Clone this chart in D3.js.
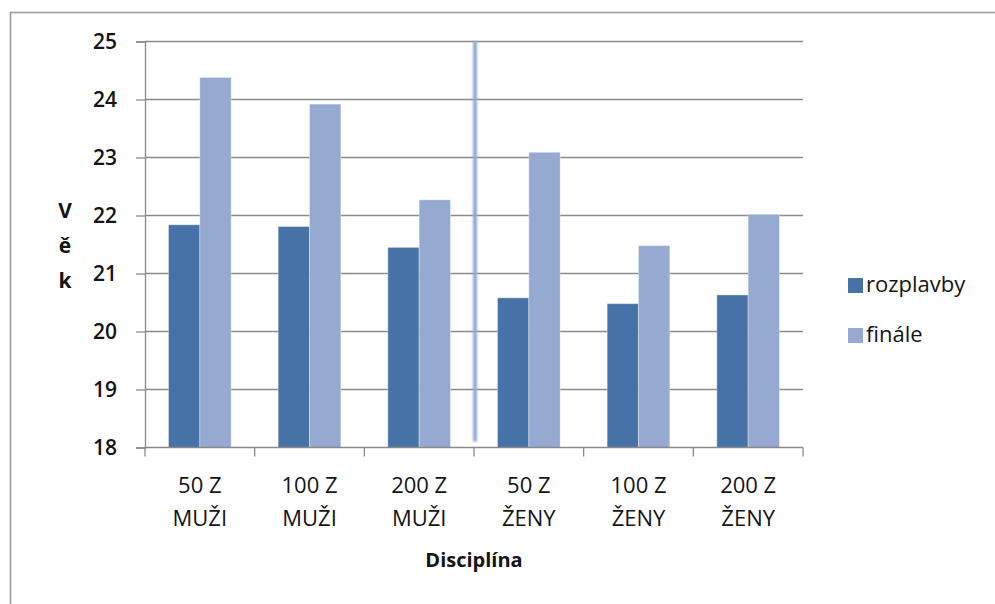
<!DOCTYPE html>
<html>
<head>
<meta charset="utf-8">
<script src="https://cdn.jsdelivr.net/npm/d3@7"></script>
<style>
  html, body { margin: 0; padding: 0; background: #fff; }
  svg { display: block; }
  text { font-family: "Open Sans", "Noto Sans", sans-serif; fill: #141414; }
</style>
</head>
<body>
<svg id="chart" width="995" height="604"></svg>
<script>
// Category labels (two lines each: distance / gender)
const distances = ["50 Z", "100 Z", "200 Z", "50 Z", "100 Z", "200 Z"];
const genders   = ["MUŽI", "MUŽI", "MUŽI", "ŽENY", "ŽENY", "ŽENY"];
const categories = distances.map((d, i) => d + " " + genders[i]);

// Series
const seriesNames = ["rozplavby", "finále"];
const rozplavby = [21.84, 21.81, 21.45, 20.58, 20.48, 20.63];
const finale    = [24.38, 23.92, 22.27, 23.09, 21.48, 22.02];
const seriesValues = [rozplavby, finale];
const seriesColors = ["#4672a8", "#95a9d1"];

// Axis
const yTicks = [18, 19, 20, 21, 22, 23, 24, 25];
const yTitle = ["V", "ě", "k"];
const xTitle = "Disciplína";

const svg = d3.select("#chart");

// outer chart frame (runs off the right and bottom edge)
svg.append("rect")
  .attr("x", 10.5).attr("y", 12.5)
  .attr("width", 1000).attr("height", 700)
  .attr("fill", "none")
  .attr("stroke", "#9c9c9c")
  .attr("stroke-width", 1.6);

const plot = { left: 145, right: 803, top: 41.5, bottom: 447.5 };

const x = d3.scaleBand()
  .domain(categories)
  .range([plot.left, plot.right])
  .paddingInner(0).paddingOuter(0);

const xs = d3.scaleBand()
  .domain(seriesNames)
  .range([0, x.bandwidth()])
  .paddingInner(0).paddingOuter(0.75);

const y = d3.scaleLinear()
  .domain([18, 25])
  .range([plot.bottom, plot.top]);

// gridlines
svg.append("g")
  .selectAll("line")
  .data(yTicks.filter(t => t !== 18))
  .join("line")
  .attr("x1", plot.left).attr("x2", plot.right)
  .attr("y1", d => y(d)).attr("y2", d => y(d))
  .attr("stroke", "#8a8a8a")
  .attr("stroke-width", 1.3);

// y axis
const yAxis = svg.append("g")
  .attr("transform", `translate(${plot.left},0)`)
  .call(d3.axisLeft(y).tickValues(yTicks).tickSize(9).tickPadding(19).tickFormat(d3.format("d")));
yAxis.select(".domain").attr("stroke", "#8a8a8a").attr("stroke-width", 1.3);
yAxis.selectAll(".tick line").attr("stroke", "#8a8a8a").attr("stroke-width", 1.3);
yAxis.selectAll(".tick text")
  .attr("font-size", 21).attr("font-weight", 600)
  .attr("font-family", "'Open Sans', sans-serif")
  .attr("fill", "#141414");

// bars
const groups = svg.append("g")
  .selectAll("g")
  .data(categories)
  .join("g")
  .attr("transform", d => `translate(${x(d)},0)`);

groups.selectAll("rect")
  .data((d, i) => seriesNames.map((s, j) => ({ s, v: seriesValues[j][i], c: seriesColors[j] })))
  .join("rect")
  .attr("x", d => xs(d.s))
  .attr("width", xs.bandwidth())
  .attr("y", d => y(d.v))
  .attr("height", d => y(18) - y(d.v))
  .attr("fill", d => d.c)
  .attr("stroke", "rgba(255,255,255,0.35)")
  .attr("stroke-width", 1);

// x axis
const xAxis = svg.append("g")
  .attr("transform", `translate(0,${plot.bottom})`);
xAxis.append("line")
  .attr("x1", plot.left).attr("x2", plot.right)
  .attr("stroke", "#8a8a8a").attr("stroke-width", 1.3);
const boundaries = categories.map(c => x(c)).concat([x(categories[categories.length - 1]) + x.bandwidth()]);
xAxis.selectAll("line.tk")
  .data(boundaries)
  .join("line")
  .attr("class", "tk")
  .attr("x1", d => d).attr("x2", d => d)
  .attr("y1", 0).attr("y2", 9)
  .attr("stroke", "#8a8a8a").attr("stroke-width", 1.3);

const lbl = svg.append("g")
  .selectAll("text")
  .data(categories)
  .join("text")
  .attr("text-anchor", "middle")
  .attr("font-size", 22);
lbl.append("tspan")
  .attr("x", d => x(d) + x.bandwidth() / 2)
  .attr("y", 493)
  .text((d, i) => distances[i]);
lbl.append("tspan")
  .attr("x", d => x(d) + x.bandwidth() / 2)
  .attr("y", 526)
  .text((d, i) => genders[i]);

// divider between men's and women's events (soft blue stroke)
const defs = svg.append("defs");
defs.append("filter").attr("id", "soft")
  .attr("filterUnits", "userSpaceOnUse")
  .attr("x", 0).attr("y", 0).attr("width", 995).attr("height", 604)
  .append("feGaussianBlur").attr("stdDeviation", 1.2);
const divX = x(categories[3]) + 1;
svg.append("rect")
  .attr("x", divX - 2)
  .attr("width", 4)
  .attr("y", y(25))
  .attr("height", y(18) - 6 - y(25))
  .attr("fill", "#8eabd3")
  .attr("filter", "url(#soft)");

// axis titles
svg.append("text")
  .attr("x", (plot.left + plot.right) / 2)
  .attr("y", 567)
  .attr("text-anchor", "middle")
  .attr("font-size", 20)
  .attr("font-weight", 700)
  .text(xTitle);

svg.append("g")
  .selectAll("text")
  .data(yTitle)
  .join("text")
  .attr("x", 65)
  .attr("y", (d, i) => 218 + i * 35)
  .attr("text-anchor", "middle")
  .attr("font-size", 21)
  .attr("font-weight", 700)
  .text(d => d);

// legend
const legend = svg.append("g")
  .selectAll("g")
  .data(seriesNames)
  .join("g")
  .attr("transform", (d, i) => `translate(848,${278 + i * 50})`);
legend.append("rect")
  .attr("width", 15).attr("height", 15)
  .attr("fill", (d, i) => seriesColors[i]);
legend.append("text")
  .attr("x", 18).attr("y", 14)
  .attr("font-size", 22)
  .text(d => d);
</script>
</body>
</html>
